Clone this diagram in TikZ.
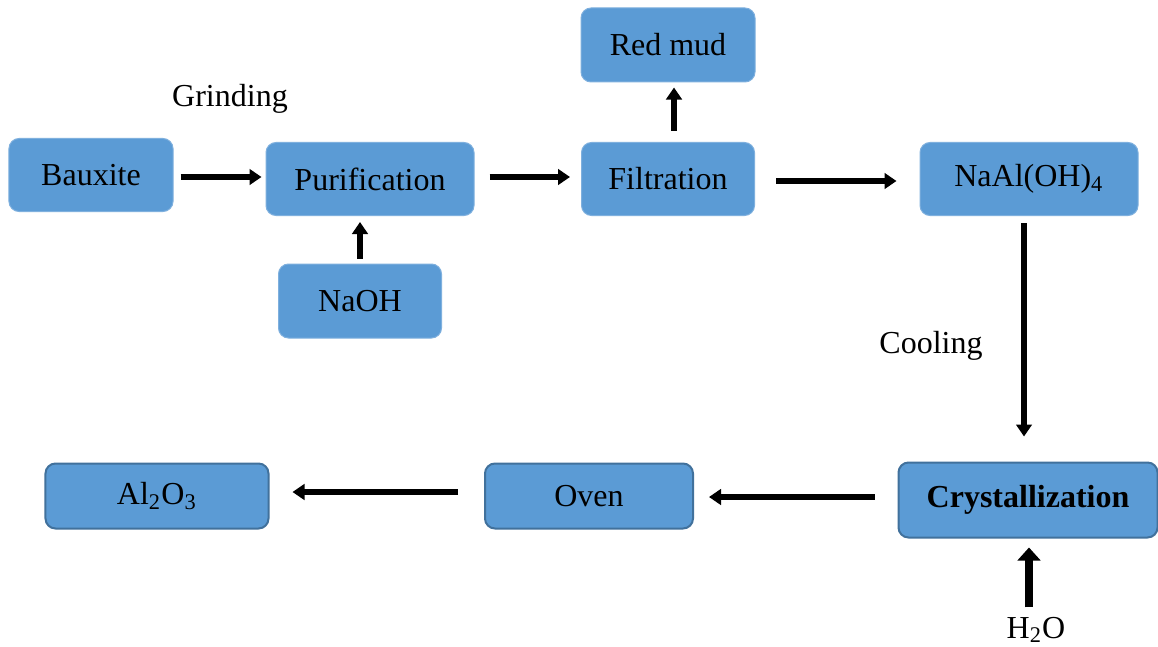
\documentclass[tikz,border=0pt]{standalone}
\usepackage{fontspec}
\setmainfont{Liberation Serif}
\usetikzlibrary{arrows.meta}
\definecolor{alFill}{HTML}{5B9BD5}
\definecolor{alEdge}{HTML}{41719C}
\definecolor{alSoft}{HTML}{7FB0DE}
\definecolor{alInk}{HTML}{000000}
\tikzset{
  alBox/.style={fill=alFill,draw=alSoft,line width=0.4pt,rounded corners=4pt,
                align=center,inner sep=0pt,text=alInk},
  alBoxDark/.style={alBox,draw=alEdge,line width=0.8pt},
  alFlow/.style={draw=alInk,line width=2.2pt,-{Triangle[length=4.8pt,width=6.2pt]}},
  alFeed/.style={draw=alInk,line width=3.2pt,-{Triangle[length=5.2pt,width=9pt]}}
}
\begin{document}
\begin{tikzpicture}[x=0.4pt,y=-0.4pt,font=\fontsize{12.8}{15}\selectfont]
\useasboundingbox[fill=white] (0,0) rectangle (1158,646);
% top row
\node[alBox,minimum width=65.6pt,minimum height=29.2pt] (bauxite) at (91,175) {Bauxite};
\node[alBox,minimum width=83.2pt,minimum height=29.2pt] (purif) at (370,179) {Purification};
\node[alBox,minimum width=69.2pt,minimum height=29.2pt] (filter) at (668,179) {Filtration};
\node[alBox,minimum width=69.6pt,minimum height=29.6pt] (redmud) at (668,45) {Red mud};
\node[alBox,minimum width=87.2pt,minimum height=29.2pt] (aluminate) at (1029,179) {NaAl(OH)\textsubscript{4}};
\node[alBox,minimum width=65.2pt,minimum height=29.6pt] (naoh) at (360,301) {NaOH};
% bottom row
\node[alBoxDark,minimum width=103.6pt,minimum height=30pt,font=\fontsize{12.8}{15}\selectfont\bfseries] (crystal) at (1028,500) {Crystallization};
\node[alBoxDark,minimum width=83.2pt,minimum height=26pt] (oven) at (589,496) {Oven};
\node[alBoxDark,minimum width=89.2pt,minimum height=26pt] (alumina) at (157,496) {Al\textsubscript{2}O\textsubscript{3}};
% labels
\node (grinding) at (230,99) {Grinding};
\node (cooling) at (931,346) {Cooling};
\node (water) at (1036,630) {H\textsubscript{2}O};
% connectors
\draw[alFlow,shorten <=2.8pt,shorten >=1.6pt] ([yshift=-0.8pt]bauxite.east) -- ([yshift=-0.8pt]bauxite.east -| purif.west);
\draw[alFlow,shorten <=6pt,shorten >=4.4pt] ([yshift=0.8pt]purif.east) -- ([yshift=0.8pt]filter.west);
\draw[alFlow,shorten <=8.4pt,shorten >=9.2pt] ([yshift=-0.8pt]filter.east) -- ([yshift=-0.8pt]aluminate.west);
\draw[alFlow,shorten <=4.4pt,shorten >=2pt] ([xshift=2.4pt]filter.north) -- ([xshift=2.4pt]filter.north |- redmud.south);
\draw[alFlow,shorten <=2pt,shorten >=2.4pt] (naoh.north) -- (naoh.north |- purif.south);
\draw[alFlow,shorten <=2.8pt,shorten >=10pt] ([xshift=-2pt]aluminate.south) -- ([xshift=-2pt]aluminate.south |- crystal.north);
\draw[alFlow,shorten <=9.2pt,shorten >=6pt] ([yshift=1.2pt]crystal.west) -- ([yshift=1.2pt]crystal.west -| oven.east);
\draw[alFlow,shorten <=10.4pt,shorten >=9.2pt] ([yshift=1.6pt]oven.west) -- ([yshift=1.6pt]oven.west -| alumina.east);
\draw[alFeed,shorten <=0.4pt,shorten >=3.6pt] ([xshift=-2.8pt]water.north) -- ([xshift=-2.8pt]water.north |- crystal.south);
\end{tikzpicture}
\end{document}
